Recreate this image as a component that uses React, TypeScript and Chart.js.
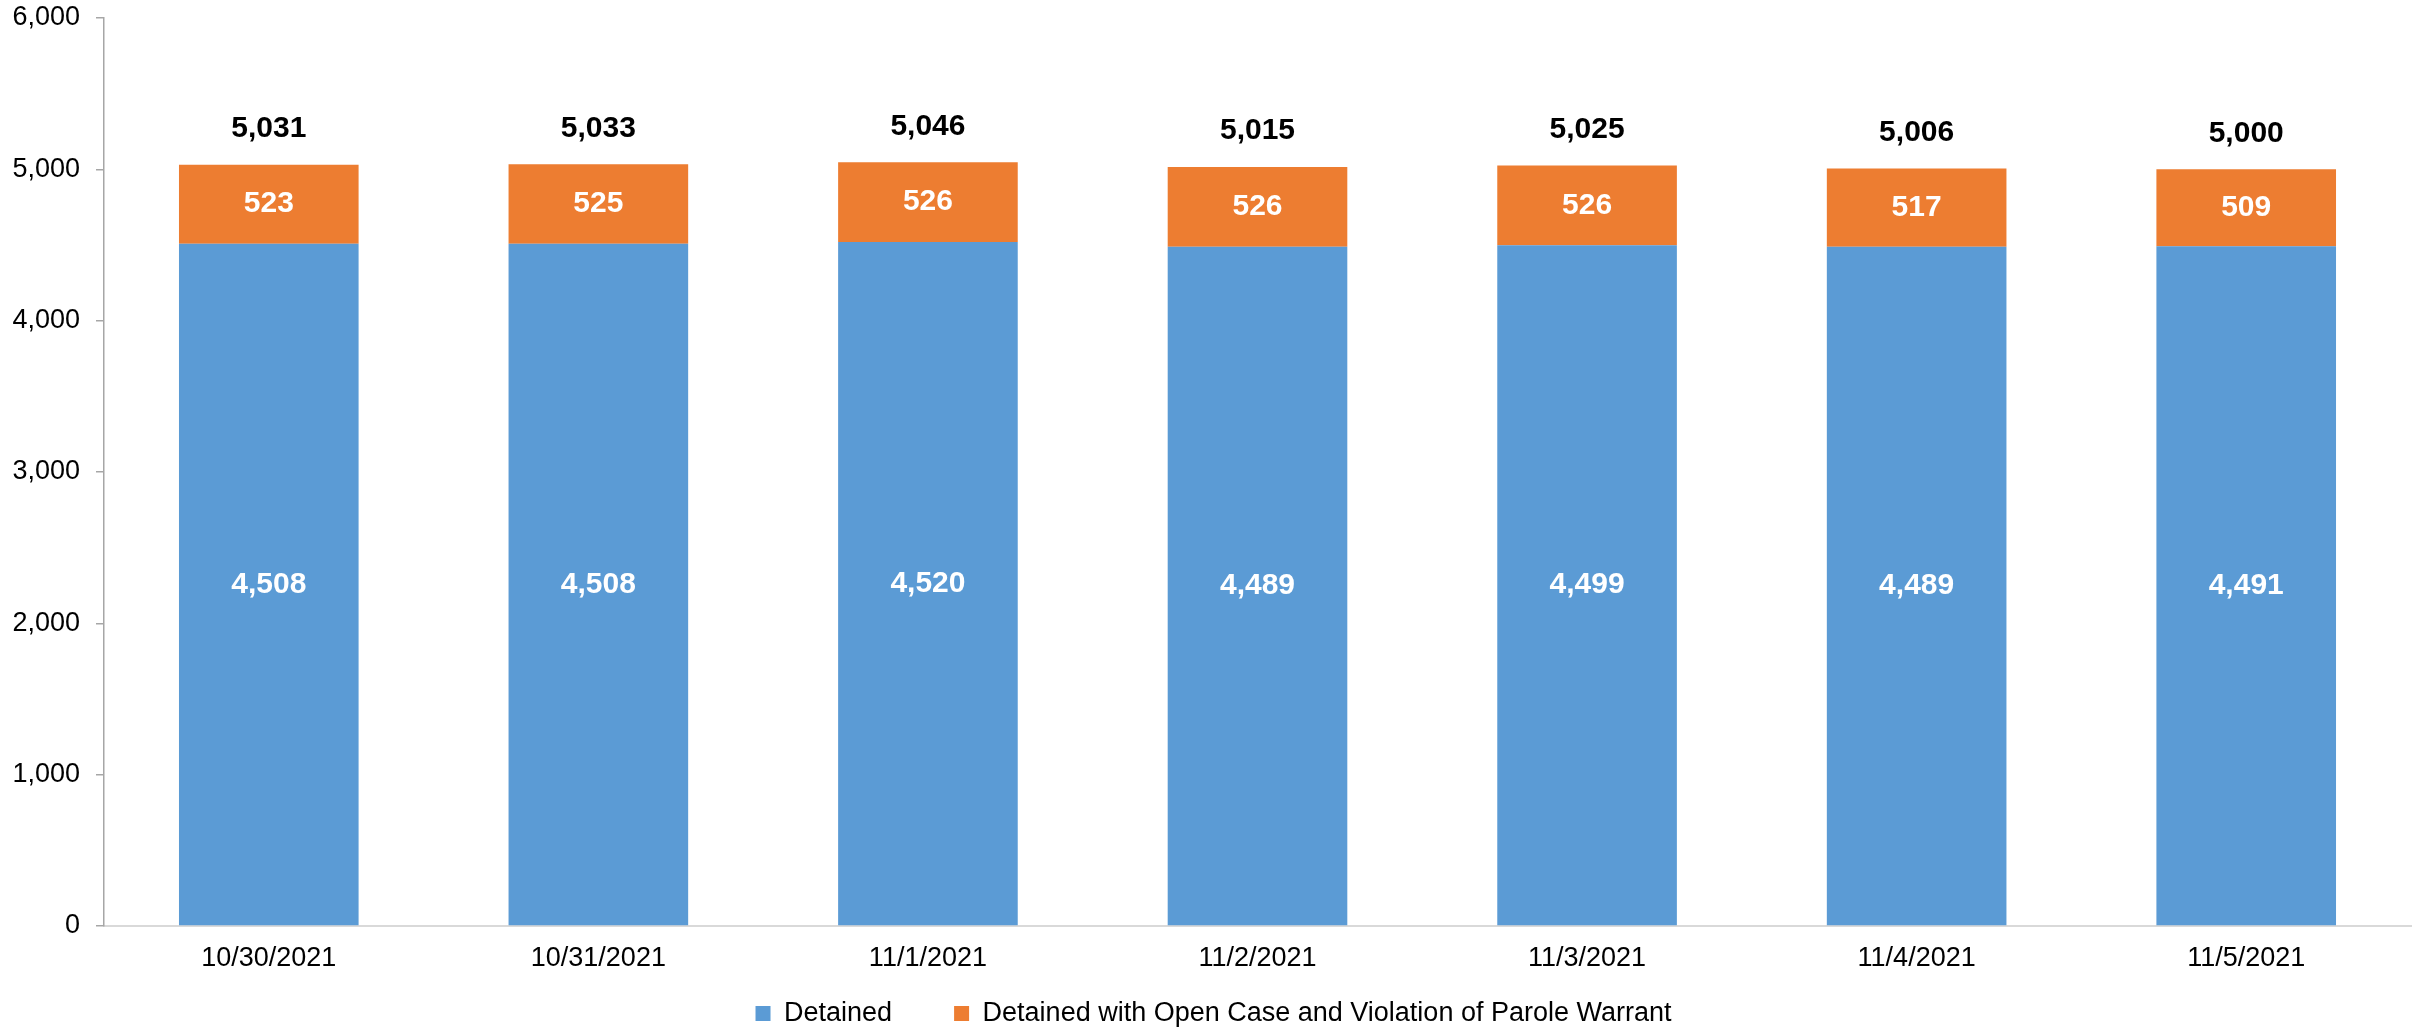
import React, { useEffect, useRef } from "react";
import { Chart, registerables } from "chart.js";

Chart.register(...registerables);

const categories = [
  "10/30/2021",
  "10/31/2021",
  "11/1/2021",
  "11/2/2021",
  "11/3/2021",
  "11/4/2021",
  "11/5/2021",
];
const detained = [4508, 4508, 4520, 4489, 4499, 4489, 4491];
const detainedWithWarrant = [523, 525, 526, 526, 526, 517, 509];
const seriesNames = ["Detained", "Detained with Open Case and Violation of Parole Warrant"];
const yMin = 0;
const yMax = 6000;
const yStep = 1000;

const FONT = "'Liberation Sans', Arial, Helvetica, sans-serif";
const BLUE = "#5B9BD5";
const ORANGE = "#ED7D31";

const fmt = (v: number) => v.toLocaleString("en-US");

const barLabelsPlugin = {
  id: "barLabels",
  afterDatasetsDraw(chart: any) {
    const ctx = chart.ctx;
    ctx.save();
    ctx.font = `bold 30px ${FONT}`;
    ctx.textAlign = "center";
    ctx.textBaseline = "middle";
    chart.data.datasets.forEach((ds: any, di: number) => {
      const meta = chart.getDatasetMeta(di);
      meta.data.forEach((bar: any, i: number) => {
        const p = bar.getProps(["x", "y", "base"], true);
        ctx.fillStyle = "#ffffff";
        ctx.fillText(fmt(Number(ds.data[i])), p.x, (p.y + p.base) / 2);
      });
    });
    const lastIdx = chart.data.datasets.length - 1;
    const lastMeta = chart.getDatasetMeta(lastIdx);
    lastMeta.data.forEach((bar: any, i: number) => {
      const p = bar.getProps(["x", "y"], true);
      let total = 0;
      chart.data.datasets.forEach((ds: any) => (total += Number(ds.data[i])));
      ctx.fillStyle = "#000000";
      ctx.fillText(fmt(total), p.x, p.y - 36);
    });
    ctx.restore();
  },
};

// Let the x tick labels draw below the (thin) axis box, and nudge the legend.
const layoutTweakPlugin = {
  id: "layoutTweak",
  afterLayout(chart: any) {
    const x = chart.scales.x;
    if (x) {
      x.bottom = chart.height;
      x.height = x.bottom - x.top;
    }
    if (chart.legend) {
      chart.legend.left += 8;
      chart.legend.right += 8;
    }
  },
};

export default function App() {
  const canvasRef = useRef<HTMLCanvasElement | null>(null);

  useEffect(() => {
    if (!canvasRef.current) return;
    const chart = new Chart(canvasRef.current, {
      type: "bar",
      data: {
        labels: categories,
        datasets: [
          {
            label: seriesNames[0],
            data: detained,
            backgroundColor: BLUE,
            borderWidth: 0,
            categoryPercentage: 1,
            barPercentage: 0.545,
          },
          {
            label: seriesNames[1],
            data: detainedWithWarrant,
            backgroundColor: ORANGE,
            borderWidth: 0,
            categoryPercentage: 1,
            barPercentage: 0.545,
          },
        ],
      },
      options: {
        responsive: false,
        animation: false,
        devicePixelRatio: 1,
        layout: { padding: { top: 18, right: 9, left: 0, bottom: 0 } },
        font: { family: FONT },
        plugins: {
          tooltip: { enabled: false },
          legend: {
            position: "bottom",
            maxHeight: 92,
            labels: {
              font: { family: FONT, size: 27 },
              color: "#000000",
              boxWidth: 15,
              boxHeight: 15,
              padding: 62,
            },
          },
        },
        scales: {
          x: {
            stacked: true,
            grid: { display: false, drawTicks: false },
            border: { display: true, color: "#d9d9d9", width: 2 },
            ticks: {
              font: { family: FONT, size: 27 },
              color: "#000000",
              padding: 16,
              maxRotation: 0,
              autoSkip: false,
            },
            afterFit: (scale: any) => {
              scale.height = 12;
              scale.paddingLeft = 0;
              scale.paddingRight = 0;
            },
          },
          y: {
            stacked: true,
            min: yMin,
            max: yMax,
            grid: {
              display: true,
              drawOnChartArea: false,
              drawTicks: true,
              tickLength: 8,
              color: "#a6a6a6",
              lineWidth: 1.5,
            },
            border: { display: true, color: "#a6a6a6", width: 1.5 },
            ticks: {
              stepSize: yStep,
              font: { family: FONT, size: 27 },
              color: "#000000",
              padding: 16,
              callback: (v: any) => fmt(Number(v)),
            },
            afterFit: (scale: any) => {
              scale.width = 104;
              scale.paddingTop = 0;
              scale.paddingBottom = 0;
            },
          },
        },
      } as any,
      plugins: [barLabelsPlugin, layoutTweakPlugin],
    });
    return () => chart.destroy();
  }, []);

  return (
    <div style={{ position: "fixed", left: 0, top: 0, width: 2420, height: 1030, background: "#ffffff" }}>
      <canvas ref={canvasRef} width={2420} height={1030} style={{ display: "block" }} />
    </div>
  );
}
